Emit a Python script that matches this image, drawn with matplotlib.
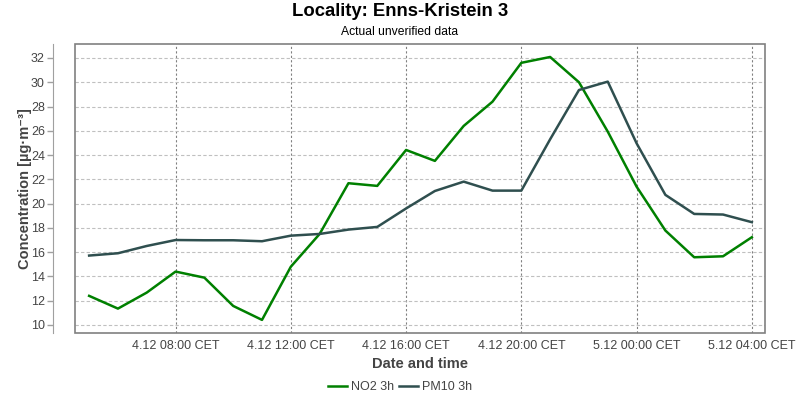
import datetime as dt
import matplotlib
matplotlib.use('Agg')
import matplotlib.pyplot as plt
from matplotlib.patches import Rectangle

# hourly values, 4.12 05:00 .. 5.12 04:00
start = dt.datetime(2023, 12, 4, 5, 0)
times = [start + dt.timedelta(hours=i) for i in range(24)]

no2 = [12.4, 11.35, 12.67, 14.4, 13.9, 11.57, 10.42, 14.8, 17.5, 21.68, 21.46, 24.42,
       23.52, 26.4, 28.4, 31.6, 32.08, 30.0, 25.93, 21.4, 17.78, 15.58, 15.66, 17.23]
pm10 = [15.72, 15.91, 16.51, 17.0, 16.98, 16.98, 16.9, 17.36, 17.5, 17.86, 18.08, 19.6,
        21.04, 21.81, 21.07, 21.07, 25.3, 29.36, 30.05, 24.97, 20.72, 19.15, 19.1, 18.47]

tick_times = [dt.datetime(2023, 12, 4, 8) + dt.timedelta(hours=4 * i) for i in range(6)]
tick_labels = ['4.12 08:00 CET', '4.12 12:00 CET', '4.12 16:00 CET',
               '4.12 20:00 CET', '5.12 00:00 CET', '5.12 04:00 CET']

plt.rcParams['font.family'] = ['Liberation Sans', 'DejaVu Sans']

fig = plt.figure(figsize=(8, 4), dpi=100)
ax = fig.add_axes([0.094, 0.1675, 0.862, 0.7225])

ax.plot(times, no2, color='#008000', lw=1.8, label='NO2 3h')
ax.plot(times, pm10, color='#2f4f4f', lw=1.8, label='PM10 3h')

ax.set_ylim(9.34, 33.15)
ax.set_xlim(start - dt.timedelta(minutes=29), times[-1] + dt.timedelta(minutes=27))
ax.set_yticks(range(10, 33, 2))
ax.set_xticks(tick_times)
ax.set_xticklabels(tick_labels)

ax.grid(axis='y', color='#c0c0c0', ls=(0, (3, 2)), lw=0.8)
ax.grid(axis='x', color='#808080', ls=(0, (2, 2)), lw=0.8)

for s in ['top', 'right', 'bottom']:
    ax.spines[s].set_visible(False)
# y axis line sits ~22 px left of the plot box (outward is in points)
ax.spines['left'].set_position(('outward', 15.8))
ax.spines['left'].set_color('#a0a0a0')
ax.add_patch(Rectangle((0, 0), 1, 1, transform=ax.transAxes, fill=False,
                       edgecolor='#808080', lw=1.2, clip_on=False, zorder=5))

ax.tick_params(axis='y', labelsize=9, colors='#444444', length=4, width=1, color='#a0a0a0', pad=2)
ax.tick_params(axis='x', labelsize=9, colors='#444444', length=0, pad=5)

ax.set_xlabel('Date and time', fontsize=10.5, fontweight='bold', color='#444444', labelpad=4)
ax.set_ylabel('Concentration [µg·m⁻³]', fontsize=10.5, fontweight='bold', color='#444444')
ax.yaxis.set_label_coords(-0.063, 0.5)

fig.text(0.5, 0.97, 'Locality: Enns-Kristein 3', ha='center', va='center',
         fontsize=13.3, fontweight='bold')
fig.text(0.5, 0.92, 'Actual unverified data', ha='center', va='center', fontsize=8.7)

fig.legend(loc='center', bbox_to_anchor=(0.5, 0.032), ncol=2, frameon=False,
           fontsize=9, handlelength=1.5, handletextpad=0.3, columnspacing=0.4,
           labelcolor='#444444')

fig.savefig('out.png', dpi=100)
